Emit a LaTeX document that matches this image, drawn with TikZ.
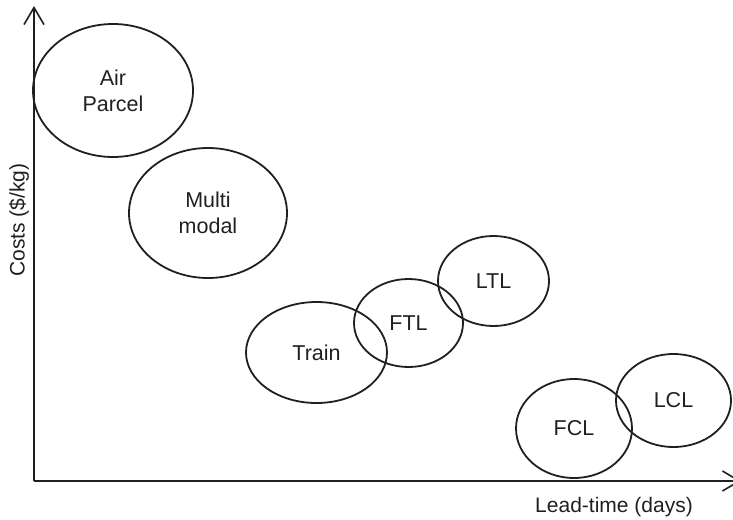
\documentclass[tikz,border=0pt]{standalone}
\usepackage{fontspec}
\setmainfont{Liberation Sans}
\usetikzlibrary{shapes.geometric,arrows.meta}
\definecolor{ink}{HTML}{231F20}
\begin{document}
\begin{tikzpicture}[x=1pt,y=-1pt,
  mode/.style={draw=ink,line width=1.8pt,ellipse,inner sep=0pt,align=center,
    font=\fontsize{21.5}{26}\selectfont,text=ink},
  axis/.style={draw=ink,line width=2pt,-{Straight Barb[length=17pt,width=20pt,line width=1.6pt]}},
  lbl/.style={font=\fontsize{21}{25}\selectfont,text=ink,inner sep=0pt}]
\useasboundingbox (0,0) rectangle (733,519);
\coordinate (origin) at (34,481);
\coordinate (ytip) at (34,6);
\coordinate (xtip) at (741,481);
\draw[axis] (origin) -- (ytip);
\draw[axis] (origin) -- (xtip);
\node[mode,minimum width=160pt,minimum height=133pt] (air) at (113,90.5) {Air\\Parcel};
\node[mode,minimum width=158pt,minimum height=130pt] (multi) at (208,213) {Multi\\modal};
\node[mode,minimum width=141pt,minimum height=101pt] (train) at (316.5,352.5) {Train};
\node[mode,minimum width=109pt,minimum height=88pt] (ftl) at (408.5,323) {FTL};
\node[mode,minimum width=111pt,minimum height=90pt] (ltl) at (493.5,281) {LTL};
\node[mode,minimum width=116pt,minimum height=99pt] (fcl) at (574,428.5) {FCL};
\node[mode,minimum width=115pt,minimum height=93pt] (lcl) at (673.5,400.5) {LCL};
\node[lbl,rotate=90] (ylabel) at (19,220) {Costs (\$/kg)};
\node[lbl] (xlabel) at (614,507) {Lead-time (days)};
\end{tikzpicture}
\end{document}
